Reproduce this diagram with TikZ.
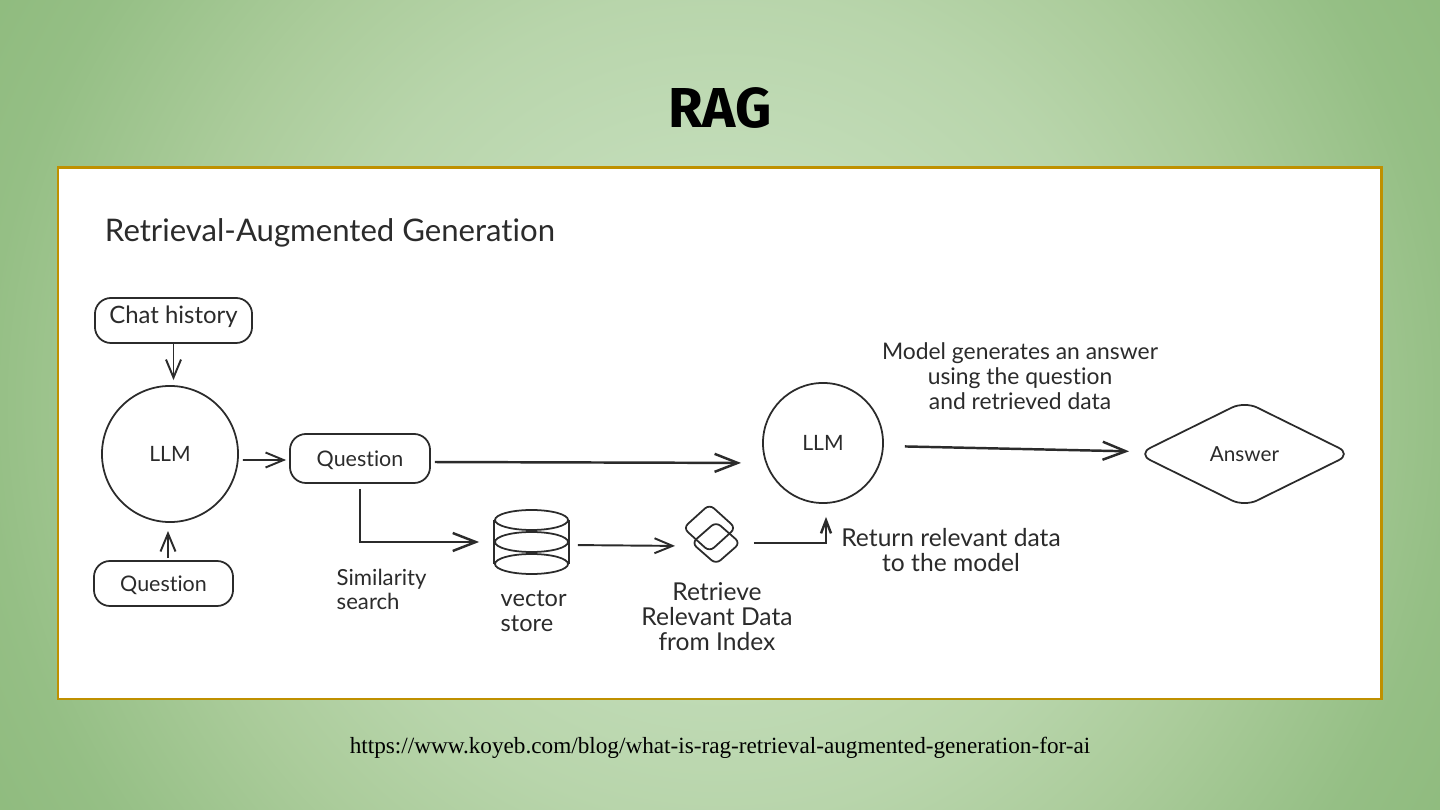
\documentclass[tikz,border=0pt]{standalone}
\usepackage{fontspec}
\setmainfont[Ligatures=NoCommon]{Lato}
\newfontfamily\urlfont{Liberation Serif}
\newfontfamily\titlefont{Fira Sans}
\usepackage{xcolor}
\usetikzlibrary{arrows.meta,positioning,shapes.geometric,calc}
\definecolor{inkcol}{HTML}{2B2B2B}
\definecolor{goldcol}{HTML}{BF9000}
\definecolor{bgA}{HTML}{C6DFBD}
\definecolor{bgB}{HTML}{C2DCB8}
\definecolor{bgC}{HTML}{B8D5AB}
\definecolor{bgD}{HTML}{ABCC9B}
\definecolor{bgE}{HTML}{95BF85}
\definecolor{bgF}{HTML}{8FBB7E}
\pgfdeclareradialshading{slidebg}{\pgfpointorigin}{color(0bp)=(bgA); color(7.2bp)=(bgB); color(12.5bp)=(bgC); color(16.7bp)=(bgD); color(22.2bp)=(bgE); color(25.4bp)=(bgF); color(50bp)=(bgF)}
\tikzset{
  sketch/.style={draw=inkcol,line width=0.5pt},
  boxnode/.style={sketch,rectangle,rounded corners=1.6mm,inner sep=0pt,text height=5.6pt,font=\fontsize{6.1}{7.1}\selectfont,text=inkcol},
  roundnode/.style={sketch,circle,inner sep=0pt,font=\fontsize{6}{7.1}\selectfont,text=inkcol},
  diskpart/.style={sketch,ellipse,inner sep=0pt,minimum width=0.73cm,minimum height=0.2cm},
  tilebox/.style={sketch,diamond,rounded corners=0.6mm,inner sep=0pt},
  textlabel/.style={inner sep=0pt,align=center,text=inkcol,font=\fontsize{7}{7.1}\selectfont},
  flow/.style={draw=inkcol,line width=0.55pt,-{Straight Barb[length=0.18cm,width=0.15cm]}},
  bigflow/.style={draw=inkcol,line width=0.7pt,-{Straight Barb[length=0.23cm,width=0.18cm]}},
}

\begin{document}
\begin{tikzpicture}[x=0.01cm,y=-0.01cm]
  %% ---- slide background and panel ----
  \useasboundingbox (0,0) rectangle (1440,810);
  \begin{scope}
    \clip (0,0) rectangle (1440,810);
    \shade[shading=slidebg] (-106,-421) rectangle (1546,1231);
  \end{scope}
  \draw[goldcol,line width=0.85pt,fill=white] (58,168) rectangle (1381,699);
  \node[inner sep=0pt,font=\titlefont\fontsize{16}{20}\bfseries\selectfont] (title) at (720,108) {RAG};
  \node[inner sep=0pt,font=\urlfont\fontsize{6.6}{10}\selectfont] (source) at (720,748)
    {https://www.koyeb.com/blog/what-is-rag-retrieval-augmented-generation-for-ai};
  \node[textlabel,font=\fontsize{8.85}{10}\selectfont] (heading) at (330,233) {Retrieval-Augmented Generation};

  %% ---- left column ----
  \node[boxnode,font=\fontsize{6.8}{7.1}\selectfont,text depth=4.1pt,minimum width=1.57cm,minimum height=0.45cm] (chat) at (173.5,320.5) {Chat history};
  \node[roundnode,minimum size=1.36cm] (llmA) at (170,454) {LLM};
  \node[boxnode,minimum width=1.39cm,minimum height=0.45cm] (askBottom) at (163.5,583.5) {Question};
  \node[boxnode,minimum width=1.40cm,minimum height=0.49cm] (askMid) at (360,458.5) {Question};

  %% ---- vector store ----
  \node[diskpart] (diskTop) at (531.5,520) {};
  \node[diskpart] (diskMid) at (531.5,542) {};
  \node[diskpart] (diskBot) at (531.5,564) {};
  \draw[sketch] (diskTop.west) -- (diskBot.west);
  \draw[sketch] (diskTop.east) -- (diskBot.east);

  %% ---- index tiles ----
  \node[tilebox,minimum width=0.53cm,minimum height=0.48cm] (tileTop) at (709.5,528) {};
  \node[tilebox,minimum width=0.49cm,minimum height=0.43cm] (tileBot) at (716,543) {};
  \coordinate (tileIn) at (685,546);

  %% ---- right side ----
  \node[roundnode,minimum size=1.2cm] (llmB) at (823,443) {LLM};
  \coordinate (llmIn) at (764,463);
  \node[sketch,diamond,rounded corners=1.4mm,inner sep=0pt,minimum width=2.14cm,minimum height=1.06cm,
    font=\fontsize{5.9}{7.1}\selectfont,text=inkcol] (answer) at (1244.5,454) {Answer};

  %% ---- labels ----
  \node[textlabel,font=\fontsize{6.3}{7.1}\selectfont,align=left,anchor=north west] (simLabel) at (336,568) {Similarity\\search};
  \node[textlabel,font=\fontsize{6.7}{7.1}\selectfont,align=left,anchor=north west] (storeLabel) at (500,590) {vector\\store};
  \node[textlabel] (indexLabel) at (717,617) {Retrieve\\Relevant Data\\from Index};
  \node[textlabel] (returnLabel) at (951,550.5) {Return relevant data\\to the model};
  \node[textlabel,font=\fontsize{6.5}{7.1}\selectfont] (modelLabel) at (1020,376.5) {Model generates an answer\\using the question\\and retrieved data};

  %% ---- connectors ----
  \draw[flow,shorten >=0.05cm] (chat.south) -- (chat.south |- llmA.north);
  \draw[flow,shorten >=0.09cm,shorten <=0.02cm] (askBottom.north -| 168,0) -- (168,522);
  \draw[flow,shorten <=0.04cm,shorten >=0.03cm] ([yshift=-0.06cm]llmA.east) -- ([yshift=-0.015cm]askMid.west);
  \draw[bigflow,shorten <=0.04cm,shorten >=0.23cm] ([yshift=-0.035cm]askMid.east) -- (llmIn);
  \draw[bigflow,shorten <=0.05cm,shorten >=0.15cm] (askMid.south) |- (diskMid.west);
  \draw[flow,shorten <=0.09cm,shorten >=0.1cm] ([yshift=-0.03cm]diskMid.east) -- (tileIn);
  \draw[bigflow,-{Straight Barb[length=0.13cm,width=0.1cm]},shorten <=0.125cm,shorten >=0.13cm]
    (tileBot.east) -| ([xshift=0.03cm]llmB.south);
  \draw[bigflow,shorten <=0.21cm,shorten >=0.075cm] ([yshift=-0.03cm]llmB.east) -- ([yshift=0.025cm]answer.west);
\end{tikzpicture}
\end{document}
